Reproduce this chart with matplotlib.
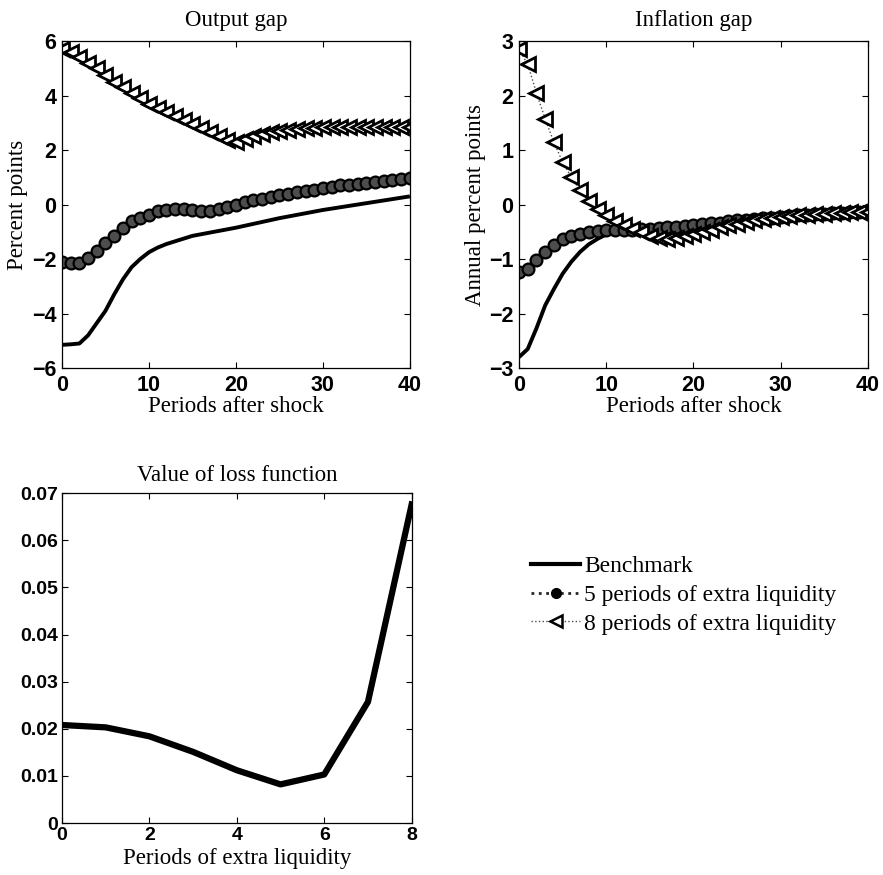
import matplotlib
matplotlib.use("Agg")
import matplotlib.pyplot as plt
from matplotlib.ticker import MultipleLocator

# periods after shock
periods = list(range(41))

# Output gap (percent points)
out_bench = [-5.15, -5.13, -5.1, -4.8, -4.35, -3.9, -3.3, -2.75, -2.3, -2.0,
             -1.75, -1.58, -1.45, -1.35, -1.25, -1.15, -1.09, -1.03, -0.97, -0.91,
             -0.85, -0.78, -0.71, -0.64, -0.57, -0.5, -0.44, -0.38, -0.32, -0.26,
             -0.2, -0.15, -0.1, -0.05, 0.0, 0.05, 0.1, 0.15, 0.2, 0.25, 0.3]
out_5 = [-2.12, -2.15, -2.15, -1.95, -1.7, -1.4, -1.15, -0.85, -0.6, -0.5,
         -0.38, -0.25, -0.2, -0.18, -0.18, -0.2, -0.22, -0.25, -0.18, -0.1,
         0.0, 0.08, 0.15, 0.22, 0.28, 0.35, 0.4, 0.45, 0.5, 0.55,
         0.6, 0.65, 0.7, 0.73, 0.77, 0.8, 0.84, 0.87, 0.9, 0.93, 0.97]
out_8 = [5.7, 5.6, 5.4, 5.2, 5.0, 4.75, 4.5, 4.3, 4.1, 3.9,
         3.7, 3.55, 3.4, 3.25, 3.1, 2.95, 2.8, 2.65, 2.5, 2.38,
         2.3, 2.4, 2.5, 2.6, 2.65, 2.7, 2.75, 2.78, 2.8, 2.82,
         2.84, 2.85, 2.85, 2.86, 2.86, 2.86, 2.86, 2.86, 2.85, 2.85, 2.85]

# Inflation gap (annual percent points)
inf_bench = [-2.8, -2.65, -2.27, -1.85, -1.55, -1.27, -1.05, -0.87, -0.73, -0.63,
             -0.55, -0.5, -0.48, -0.47, -0.46, -0.45, -0.44, -0.43, -0.41, -0.4,
             -0.38, -0.36, -0.35, -0.33, -0.32, -0.3, -0.29, -0.27, -0.26, -0.24,
             -0.23, -0.22, -0.21, -0.2, -0.19, -0.18, -0.17, -0.16, -0.15, -0.14, -0.13]
inf_5 = [-1.24, -1.18, -1.02, -0.88, -0.75, -0.64, -0.58, -0.54, -0.51, -0.48,
         -0.47, -0.47, -0.46, -0.46, -0.45, -0.44, -0.43, -0.42, -0.41, -0.39,
         -0.37, -0.36, -0.34, -0.33, -0.31, -0.29, -0.28, -0.27, -0.25, -0.24,
         -0.22, -0.21, -0.2, -0.19, -0.18, -0.17, -0.16, -0.15, -0.14, -0.14, -0.13]
inf_8 = [2.85, 2.57, 2.05, 1.57, 1.14, 0.78, 0.5, 0.26, 0.07, -0.08,
         -0.19, -0.31, -0.38, -0.45, -0.5, -0.57, -0.61, -0.63, -0.62, -0.58,
         -0.54, -0.5, -0.46, -0.42, -0.38, -0.35, -0.32, -0.29, -0.27, -0.25,
         -0.23, -0.21, -0.2, -0.19, -0.18, -0.17, -0.16, -0.15, -0.14, -0.14, -0.13]

# Value of loss function
liq_periods = [0, 1, 2, 3, 4, 5, 6, 7, 8]
loss = [0.0208, 0.0203, 0.0184, 0.0151, 0.0112, 0.0082, 0.0103, 0.0257, 0.0676]

serif = "Liberation Serif"
sans = "Liberation Sans"
big = 16.5

fig = plt.figure(figsize=(8.83, 8.75), dpi=100)


def style(ax, size, xpad, ypad):
    ax.tick_params(direction="in", top=True, right=True, length=4, width=0.8,
                   labelsize=size)
    ax.tick_params(axis="x", pad=xpad)
    ax.tick_params(axis="y", pad=ypad)
    for lab in ax.get_xticklabels() + ax.get_yticklabels():
        lab.set_fontfamily(sans)
        lab.set_fontweight("bold")
    for s in ax.spines.values():
        s.set_linewidth(0.9)


def irf(ax, bench, five, eight):
    ax.plot(periods, bench, color="black", lw=2.8, solid_capstyle="butt")
    ax.plot(periods, five, color="0.15", lw=2, ls=":", marker="o", ms=8.5,
            mfc="0.3", mec="black", mew=1.6)
    ax.plot(periods, eight, color="0.3", lw=1, ls=":", marker="<", ms=10,
            mfc="white", mec="black", mew=2)


ax1 = fig.add_axes([0.0702, 0.5794, 0.394, 0.3737])
irf(ax1, out_bench, out_5, out_8)
ax1.set_xlim(0, 40)
ax1.set_ylim(-6, 6)
ax1.xaxis.set_major_locator(MultipleLocator(10))
ax1.yaxis.set_major_locator(MultipleLocator(2))
ax1.set_title("Output gap", fontfamily=serif, fontsize=big, pad=11)
ax1.set_xlabel("Periods after shock", fontfamily=serif, fontsize=big, labelpad=0)
ax1.set_ylabel("Percent points", fontfamily=serif, fontsize=big, labelpad=3)
style(ax1, 15.5, 5, 4)

ax2 = fig.add_axes([0.5878, 0.5794, 0.395, 0.3737])
irf(ax2, inf_bench, inf_5, inf_8)
ax2.set_xlim(0, 40)
ax2.set_ylim(-3, 3)
ax2.xaxis.set_major_locator(MultipleLocator(10))
ax2.yaxis.set_major_locator(MultipleLocator(1))
ax2.set_title("Inflation gap", fontfamily=serif, fontsize=big, pad=11)
ax2.set_xlabel("Periods after shock", fontfamily=serif, fontsize=big, labelpad=0)
ax2.set_ylabel("Annual percent points", fontfamily=serif, fontsize=big, labelpad=2)
style(ax2, 15.5, 5, 4)

ax3 = fig.add_axes([0.0702, 0.0594, 0.396, 0.377])
ax3.plot(liq_periods, loss, color="black", lw=4.5, solid_joinstyle="round")
ax3.set_xlim(0, 8)
ax3.set_ylim(0, 0.07)
ax3.xaxis.set_major_locator(MultipleLocator(2))
ax3.set_yticks([0, 0.01, 0.02, 0.03, 0.04, 0.05, 0.06, 0.07])
ax3.set_yticklabels(["0", "0.01", "0.02", "0.03", "0.04", "0.05", "0.06", "0.07"])
ax3.set_title("Value of loss function", fontfamily=serif, fontsize=big, pad=9)
ax3.set_xlabel("Periods of extra liquidity", fontfamily=serif, fontsize=big, labelpad=3)
style(ax3, 14, 3, 3)

h1, = plt.plot([], [], color="black", lw=3)
h2, = plt.plot([], [], color="0.15", lw=2, ls=":", marker="o", ms=7,
               mfc="black", mec="black")
h3, = plt.plot([], [], color="0.3", lw=1, ls=":", marker="<", ms=8,
               mfc="white", mec="black", mew=1.8)
fig.legend([h1, h2, h3],
           ["Benchmark", "5 periods of extra liquidity", "8 periods of extra liquidity"],
           loc="upper left", bbox_to_anchor=(0.577, 0.389), frameon=False,
           prop={"family": serif, "size": 17}, handlelength=2.1,
           handletextpad=0.15, labelspacing=0.3)

fig.savefig("out.png", dpi=100)
